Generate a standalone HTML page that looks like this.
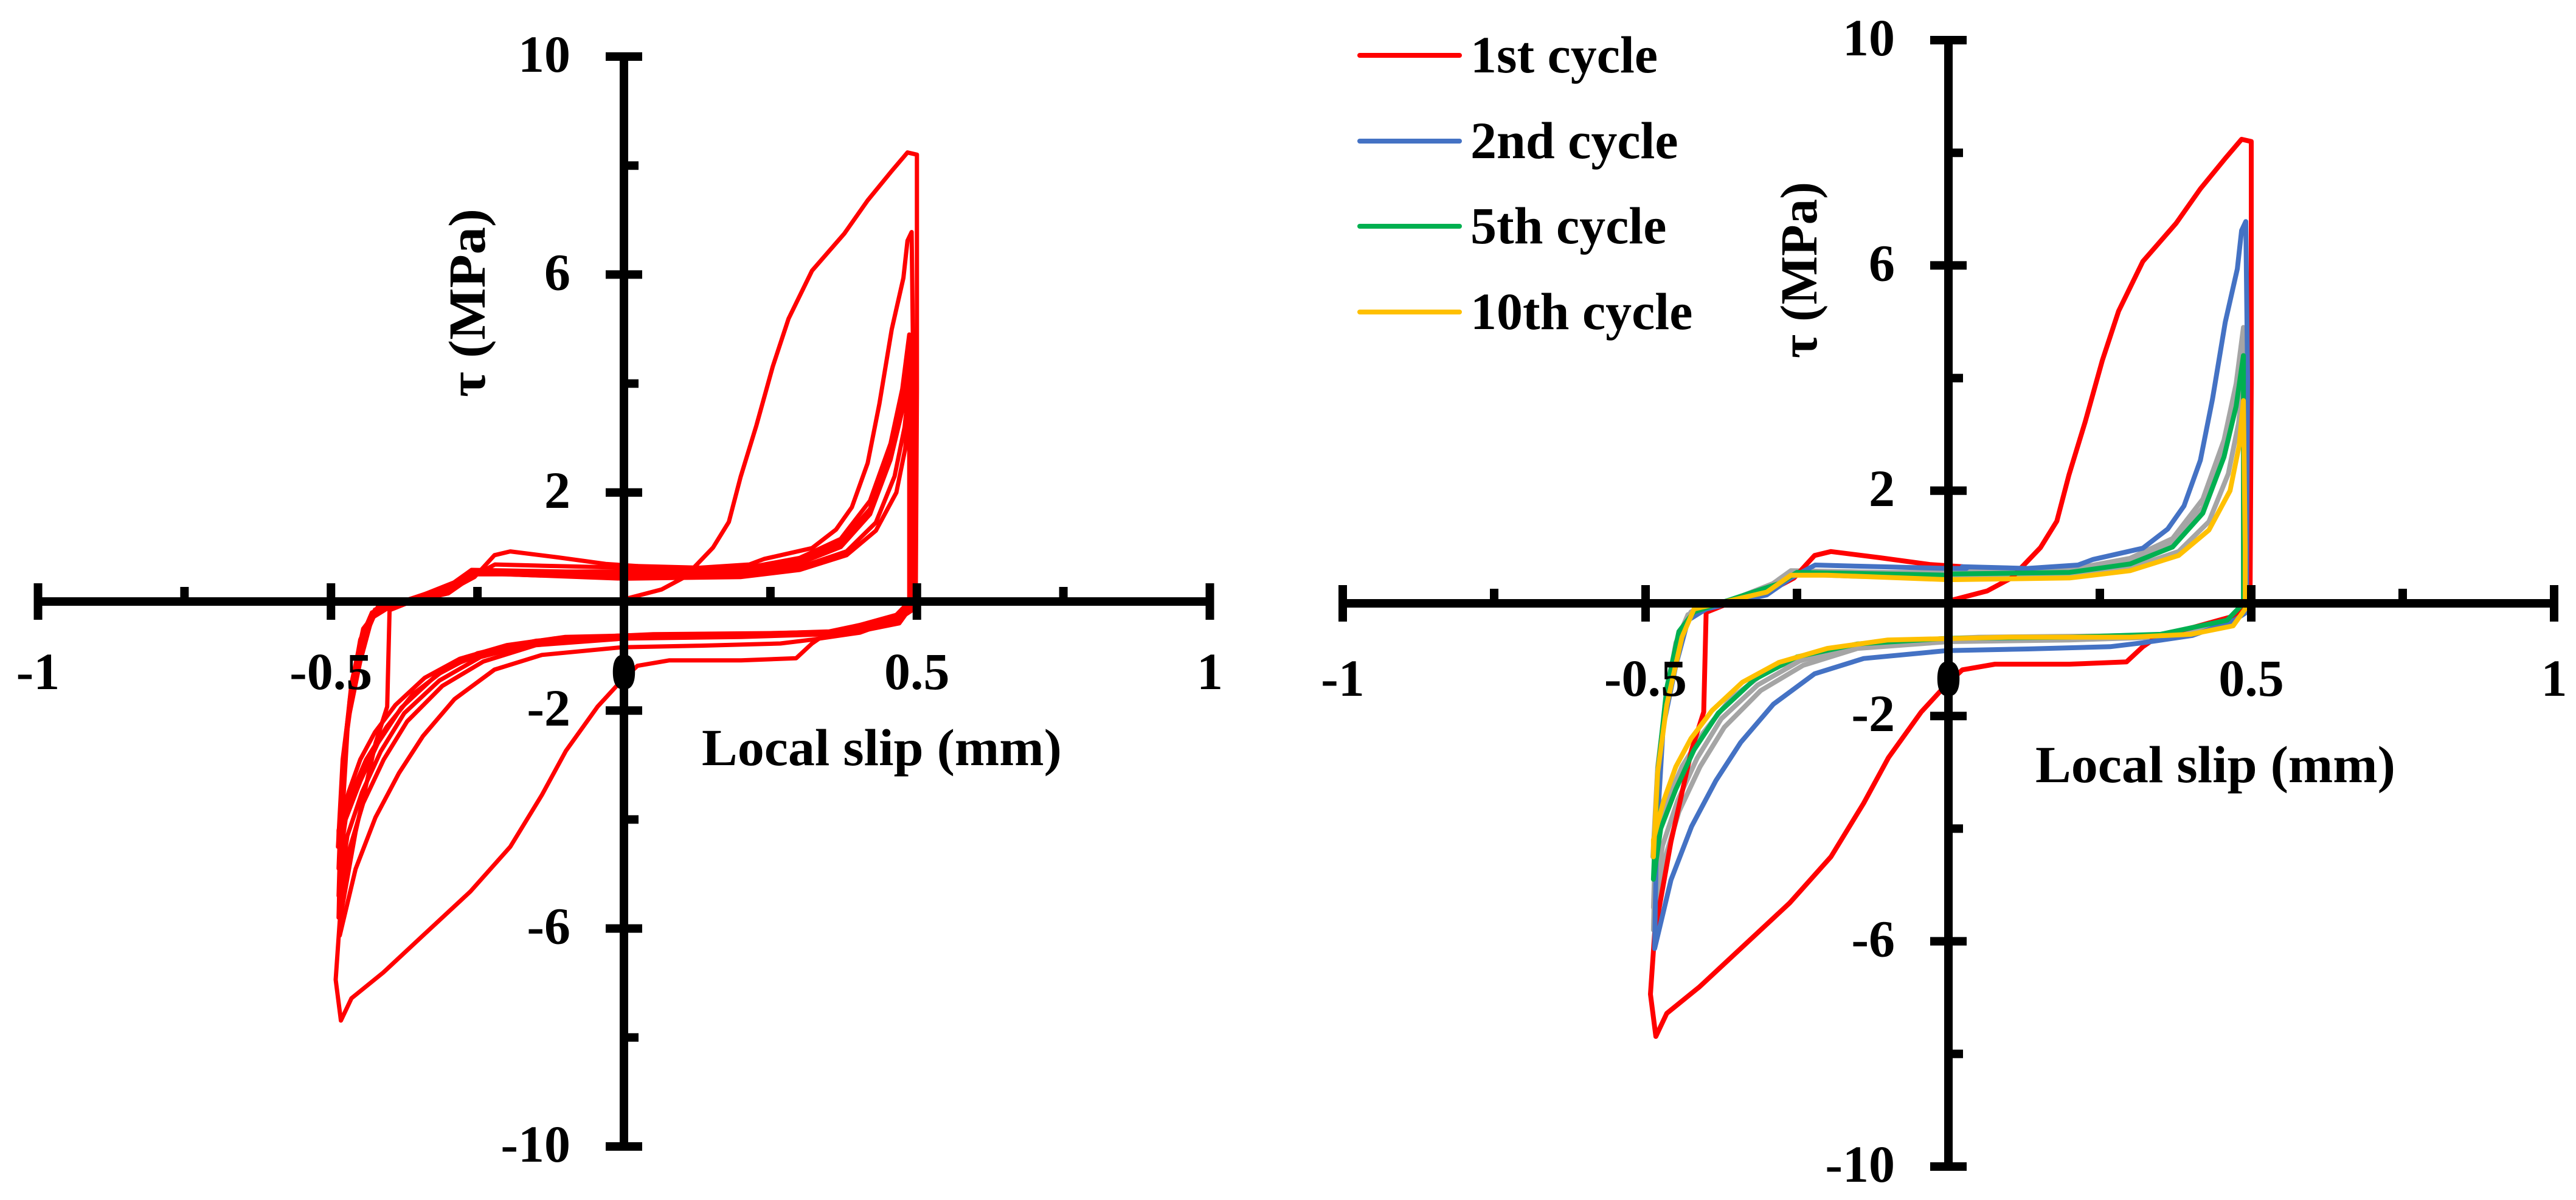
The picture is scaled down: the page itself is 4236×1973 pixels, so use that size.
<!DOCTYPE html>
<html><head><meta charset="utf-8"><style>
html,body{margin:0;padding:0;background:#fff;}
svg{display:block;}
text{font-family:"Liberation Serif",serif;font-weight:bold;fill:#000;}
</style></head><body>
<svg id="fig" width="4236" height="1973" viewBox="0 0 4236 1973" xmlns="http://www.w3.org/2000/svg">
<g id="left"></g>
<g id="right"></g>
<g id="legend"></g>
</svg>
<script>
// ---- data (slip mm, tau MPa) ----
const xTicks = [-1, -0.5, 0.5, 1];
const xTickLabels = ["-1", "-0.5", "0.5", "1"];
const xMinor = [-0.75, -0.25, 0.25, 0.75];
const yTicks = [10, 6, 2, -2, -6, -10];
const yTickLabels = ["10", "6", "2", "-2", "-6", "-10"];
const yMinor = [8, 4, -4, -8];
const cycle1X = [0,0.064,0.104,0.152,0.179,0.199,0.226,0.254,0.281,0.321,0.376,0.416,0.457,0.484,0.5,0.5,0.498,0.47,0.403,0.348,0.321,0.294,0.2,0.077,0.023,-0.004,-0.045,-0.099,-0.14,-0.194,-0.262,-0.343,-0.411,-0.465,-0.483,-0.492,-0.485,-0.458,-0.424,-0.404,-0.4,-0.37,-0.302,-0.255,-0.221,-0.194,-0.113,-0.031,0.023];
const cycle1Y = [0.04,0.22,0.45,0.99,1.46,2.28,3.23,4.31,5.19,6.07,6.75,7.36,7.9,8.24,8.2,3.9,-0.03,-0.23,-0.43,-0.57,-0.77,-1.04,-1.08,-1.08,-1.18,-1.45,-1.93,-2.74,-3.55,-4.5,-5.32,-6.13,-6.81,-7.28,-7.69,-6.94,-5.86,-4.23,-2.6,-1.93,-0.16,-0.03,0.18,0.45,0.85,0.92,0.81,0.69,0.65];
const cycle2X = [0.023,0.13,0.214,0.239,0.321,0.362,0.389,0.416,0.436,0.457,0.477,0.484,0.491,0.494,0.492,0.472,0.403,0.321,0.267,0.131,-0.004,-0.14,-0.221,-0.289,-0.343,-0.384,-0.424,-0.458,-0.485,-0.482,-0.471,-0.45,-0.43,-0.4,-0.3,-0.26,-0.22,-0.15,0.0,0.03];
const cycle2Y = [0.65,0.62,0.68,0.78,0.98,1.32,1.73,2.54,3.63,4.99,5.94,6.62,6.78,4,-0.16,-0.3,-0.57,-0.7,-0.77,-0.81,-0.84,-0.98,-1.25,-1.79,-2.47,-3.15,-3.96,-4.91,-6.13,-4.2,-2.2,-1.1,-0.3,-0.1,0.15,0.45,0.68,0.66,0.62,0.62];
const cycle3X = [0.03,0.2,0.3,0.37,0.42,0.455,0.475,0.487,0.49,0.47,0.35,0.2,0,-0.15,-0.24,-0.31,-0.37,-0.41,-0.445,-0.47,-0.487,-0.482,-0.468,-0.45,-0.43,-0.36,-0.29,-0.26,-0.1,0];
const cycle3Y = [0.6,0.6,0.8,1.15,1.85,2.9,3.9,4.9,0,-0.3,-0.6,-0.65,-0.68,-0.8,-1.1,-1.55,-2.2,-2.9,-3.7,-4.6,-5.8,-3.5,-1.8,-0.7,-0.2,0.05,0.35,0.58,0.55,0.55];
const cycle4X = [0,0.2,0.3,0.37,0.42,0.455,0.475,0.487,0.489,0.47,0.35,0.2,0,-0.15,-0.245,-0.315,-0.375,-0.415,-0.447,-0.472,-0.487,-0.481,-0.466,-0.446,-0.425,-0.355,-0.285,-0.255,-0.1,0];
const cycle4Y = [0.55,0.57,0.75,1.08,1.7,2.75,3.7,4.6,0,-0.3,-0.58,-0.63,-0.65,-0.76,-1.02,-1.45,-2.05,-2.75,-3.5,-4.3,-5.4,-3.3,-1.7,-0.6,-0.15,0.08,0.33,0.55,0.52,0.52];
const cycle5X = [0,0.2,0.3,0.37,0.42,0.455,0.475,0.487,0.487,0.46,0.35,0.2,0,-0.15,-0.25,-0.32,-0.38,-0.42,-0.45,-0.475,-0.487,-0.48,-0.465,-0.445,-0.42,-0.35,-0.28,-0.25,-0.1,0];
const cycle5Y = [0.52,0.55,0.7,1.0,1.6,2.6,3.5,4.4,0,-0.3,-0.55,-0.6,-0.62,-0.72,-0.95,-1.35,-1.95,-2.6,-3.3,-4.0,-4.9,-3.0,-1.5,-0.5,-0.15,0.1,0.35,0.55,0.52,0.5];
const cycle7X = [0,0.2,0.3,0.38,0.43,0.462,0.479,0.488,0.489,0.468,0.38,0.25,0.05,-0.12,-0.22,-0.3,-0.36,-0.405,-0.44,-0.468,-0.488,-0.48,-0.465,-0.442,-0.42,-0.36,-0.29,-0.255,-0.15,0];
const cycle7Y = [0.48,0.5,0.63,0.92,1.45,2.3,3.2,4.1,0,-0.35,-0.55,-0.58,-0.6,-0.68,-0.88,-1.2,-1.7,-2.3,-2.9,-3.6,-4.5,-2.9,-1.6,-0.5,-0.1,0.05,0.28,0.52,0.48,0.46];
const cycle10X = [0,0.2,0.3,0.38,0.43,0.465,0.48,0.487,0.49,0.49,0.47,0.4,0.3,0.1,-0.1,-0.2,-0.28,-0.34,-0.39,-0.425,-0.45,-0.47,-0.487,-0.487,-0.48,-0.465,-0.44,-0.42,-0.38,-0.3,-0.26,-0.2,0];
const cycle10Y = [0.42,0.45,0.58,0.85,1.3,2.0,2.8,3.6,1.0,-0.1,-0.4,-0.55,-0.6,-0.6,-0.65,-0.8,-1.05,-1.4,-1.9,-2.4,-2.9,-3.5,-4.2,-4.5,-3.0,-1.8,-0.6,-0.1,0.0,0.2,0.5,0.5,0.42];
const legendLabels = ["1st cycle","2nd cycle","5th cycle","10th cycle"];

const NS = "http://www.w3.org/2000/svg";
function mk(tag, attrs, parent){
  const e = document.createElementNS(NS, tag);
  for (const k in attrs) e.setAttribute(k, attrs[k]);
  parent.appendChild(e);
  return e;
}
function drawChart(g, cfg, series){
  const sx = v => cfg.x0 + v*cfg.ux;
  const sy = v => cfg.y0 - v*cfg.uy;
  // series first (axes drawn on top)
  series.forEach(s => {
    let d = "";
    s.x.forEach((v,i) => { d += (i?"L":"M") + sx(v).toFixed(1) + " " + sy(s.y[i]).toFixed(1); });
    const p = mk("path", {d:d, fill:"none", stroke:s.color, "stroke-width":cfg.lw, "stroke-linejoin":"round", "stroke-linecap":"round"}, g);
    
    
  });
  const ax = mk("line", {x1:sx(-1), x2:sx(1), y1:cfg.y0, y2:cfg.y0, stroke:"#000", "stroke-width":14}, g);
  
  
  const ay = mk("line", {x1:cfg.x0, x2:cfg.x0, y1:sy(10), y2:sy(-10), stroke:"#000", "stroke-width":14}, g);
  
  
  xTicks.forEach((v,i) => {
    const t = mk("line", {x1:sx(v), x2:sx(v), y1:cfg.y0-30, y2:cfg.y0+30, stroke:"#000", "stroke-width":14}, g);
    
    
    const l = mk("text", {x:sx(v), y:cfg.y0+cfg.xlab, "font-size":86, "text-anchor":"middle"}, g);
    l.textContent = xTickLabels[i];
    
    
  });
  const zl = mk("text", {x:cfg.x0, y:cfg.y0+cfg.xlab, "font-size":86, "text-anchor":"middle"}, g);
  zl.textContent = "0";
  
  
  xMinor.forEach(v => {
    const t = mk("line", {x1:sx(v), x2:sx(v), y1:cfg.y0-24, y2:cfg.y0, stroke:"#000", "stroke-width":14}, g);
    
    
  });
  yTicks.forEach((v,i) => {
    const t = mk("line", {x1:cfg.x0-30, x2:cfg.x0+30, y1:sy(v), y2:sy(v), stroke:"#000", "stroke-width":14}, g);
    
    
    const l = mk("text", {x:cfg.x0-88, y:sy(v)+25, "font-size":86, "text-anchor":"end"}, g);
    l.textContent = yTickLabels[i];
    
    
  });
  yMinor.forEach(v => {
    const t = mk("line", {x1:cfg.x0, x2:cfg.x0+24, y1:sy(v), y2:sy(v), stroke:"#000", "stroke-width":14}, g);
    
    
  });
  const xt = mk("text", {x:cfg.xtx, y:cfg.xty, "font-size":86, textLength:cfg.xtw, lengthAdjust:"spacingAndGlyphs"}, g);
  xt.textContent = "Local slip (mm)";
  
  
  const yt = mk("text", {x:0, y:0, "font-size":86, "text-anchor":"middle", transform:"translate("+(cfg.ytx+30)+","+cfg.yty+") rotate(-90)", textLength:cfg.ytw, lengthAdjust:"spacingAndGlyphs"}, g);
  yt.textContent = cfg.ytitle;
  
  
}
const RED="#ff0000", BLUE="#4472c4", GREEN="#00b050", YEL="#ffc000", GREY="#a5a5a5";
drawChart(document.getElementById("left"),
  {x0:1026, y0:989, ux:963.5, uy:89.6, lw:7, xlab:144, xtx:1154, xty:1258, xtw:592, ytx:767, yty:498, ytw:310, ytitle:"τ  (MPa)"},
  [
    {name:"cycle-1", color:RED, x:cycle1X, y:cycle1Y},
    {name:"cycle-2", color:RED, x:cycle2X, y:cycle2Y},
    {name:"cycle-3", color:RED, x:cycle3X, y:cycle3Y},
    {name:"cycle-4", color:RED, x:cycle4X, y:cycle4Y},
    {name:"cycle-5", color:RED, x:cycle5X, y:cycle5Y},
    {name:"cycle-7", color:RED, x:cycle7X, y:cycle7Y},
    {name:"cycle-10", color:RED, x:cycle10X, y:cycle10Y}
  ]);
drawChart(document.getElementById("right"),
  {x0:3204, y0:992, ux:996, uy:92.6, lw:8, xlab:152, xtx:3347, xty:1286, xtw:592, ytx:2957, yty:444, ytw:290, ytitle:"τ (MPa)"},
  [
    {name:"cycle-3-grey", color:GREY, x:cycle3X, y:cycle3Y},
    {name:"cycle-4-grey", color:GREY, x:cycle4X, y:cycle4Y},
    {name:"cycle-7-grey", color:GREY, x:cycle7X, y:cycle7Y},
    {name:"cycle-1", color:RED, x:cycle1X, y:cycle1Y},
    {name:"cycle-2", color:BLUE, x:cycle2X, y:cycle2Y},
    {name:"cycle-5", color:GREEN, x:cycle5X, y:cycle5Y},
    {name:"cycle-10", color:YEL, x:cycle10X, y:cycle10Y}
  ]);
const lg = document.getElementById("legend");
const lcol = [RED, BLUE, GREEN, YEL];
const lys = [91, 232, 372, 513];
legendLabels.forEach((s,i) => {
  const ln = mk("line", {x1:2236, x2:2400, y1:lys[i], y2:lys[i], stroke:lcol[i], "stroke-width":8, "stroke-linecap":"round"}, lg);
  
  
  const t = mk("text", {x:2418, y:lys[i]+28, "font-size":86}, lg);
  t.textContent = s;
  
  
});
</script>
</body></html>
